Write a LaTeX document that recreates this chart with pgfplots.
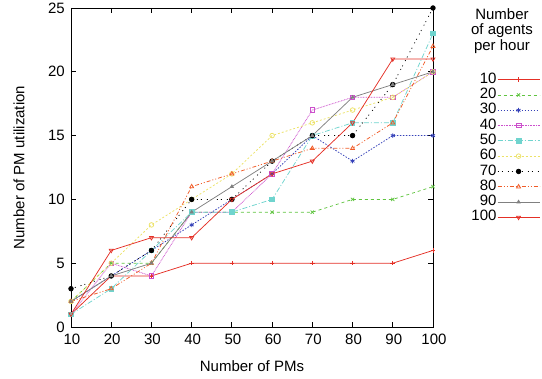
\documentclass[border=0pt]{standalone}
\usepackage{pgfplots}
\pgfplotsset{compat=1.18}
\usepackage{fontspec}
\setmainfont{Liberation Sans}
\definecolor{c10}{RGB}{228,48,38}
\definecolor{c20}{RGB}{96,196,64}
\definecolor{c30}{RGB}{52,64,184}
\definecolor{c40}{RGB}{204,80,204}
\definecolor{c50}{RGB}{112,212,206}
\definecolor{c60}{RGB}{236,226,104}
\definecolor{c70}{RGB}{0,0,0}
\definecolor{c80}{RGB}{240,92,40}
\definecolor{c90}{RGB}{128,128,128}
\definecolor{c100}{RGB}{228,48,38}
\begin{document}
\fontsize{15}{17}\selectfont
\begin{tikzpicture}
\path[use as bounding box] (-71pt,-52pt) rectangle (471pt,327pt);
\begin{axis}[
  scale only axis,
  width=362pt, height=319pt,
  xmin=10, xmax=100, ymin=0, ymax=25,
  xtick={10,20,...,100}, ytick={0,5,...,25},
  tick align=inside,
  major tick length=5pt,
  axis line style={line width=0.9pt},
  every tick/.style={black, line width=0.8pt},
  /pgf/number format/assume math mode=true,
  tick label style={font=\fontsize{15}{17}\selectfont},
  xticklabel style={yshift=-2pt, xshift=1pt},
  yticklabel style={xshift=-1pt},
  label style={font=\fontsize{15}{17}\selectfont},
  xlabel={Number of PMs},
  ylabel={Number of PM utilization},
  xlabel style={at={(axis description cs:0.5,-0.1223)}, anchor=center},
  ylabel style={at={(axis description cs:-0.1436,0.5)}, anchor=center},
  legend plot pos=right,
  legend cell align=right,
  legend style={draw=none, fill=none, at={(axis description cs:1.296,0.80)}, anchor=north east,
    inner sep=0pt, font=\fontsize{15}{17}\selectfont,
    nodes={text height=10.5pt, text depth=3.3pt, inner sep=0.75pt}},
  legend image code/.code={\draw[mark repeat=2,mark phase=2] plot coordinates {(0pt,0pt) (21pt,0pt) (42pt,0pt)};},
  every axis plot/.append style={line width=0.75pt, mark size=2.3pt, mark options={solid}},
  clip=false,
]
\addplot[c10, mark=+] coordinates {(10,1)(20,4)(30,4)(40,5)(50,5)(60,5)(70,5)(80,5)(90,5)(100,6)};
\addlegendentry{10}
\addplot[c20, dashed, mark=x] coordinates {(10,2)(20,5)(30,5)(40,9)(50,9)(60,9)(70,9)(80,10)(90,10)(100,11)};
\addlegendentry{20}
\addplot[c30, dash pattern=on 1.5pt off 1.5pt, mark=asterisk] coordinates {(10,2)(20,4)(30,6)(40,8)(50,10)(60,12)(70,15)(80,13)(90,15)(100,15)};
\addlegendentry{30}
\addplot[c40, dash pattern=on 0.8pt off 0.8pt, mark=square] coordinates {(10,1)(20,5)(30,4)(40,9)(50,9)(60,12)(70,17)(80,18)(90,18)(100,20)};
\addlegendentry{40}
\addplot[c50, dash pattern=on 5pt off 2pt on 1pt off 2pt, mark=square*] coordinates {(10,1)(20,3)(30,6)(40,9)(50,9)(60,10)(70,15)(80,16)(90,16)(100,23)};
\addlegendentry{50}
\addplot[c60, dash pattern=on 2pt off 2pt, mark=o] coordinates {(10,2)(20,5)(30,8)(40,10)(50,12)(60,15)(70,16)(80,17)(90,18)(100,20)};
\addlegendentry{60}
\addplot[c70, dash pattern=on 1pt off 3pt on 1pt off 5pt, mark=*] coordinates {(10,3)(20,4)(30,6)(40,10)(50,10)(60,13)(70,15)(80,15)(90,19)(100,25)};
\addlegendentry{70}
\addplot[c80, dash pattern=on 4pt off 2pt on 1pt off 2pt on 1pt off 2pt, mark=triangle] coordinates {(10,2)(20,3)(30,5)(40,11)(50,12)(60,13)(70,14)(80,14)(90,16)(100,22)};
\addlegendentry{80}
\addplot[c90, mark=triangle*, mark size=1.8pt] coordinates {(10,2)(20,4)(30,5)(40,9)(50,11)(60,13)(70,15)(80,18)(90,19)(100,20)};
\addlegendentry{90}
\addplot[c100, mark=triangle, mark options={rotate=180}] coordinates {(10,1)(20,6)(30,7)(40,7)(50,10)(60,12)(70,13)(80,16)(90,21)(100,21)};
\addlegendentry{100}
\node[align=center, anchor=north, inner sep=0pt, font=\fontsize{15}{15.5}\selectfont] at (axis description cs:1.1906,1.0) {Number\\of agents\\per hour};
\end{axis}
\end{tikzpicture}
\end{document}
